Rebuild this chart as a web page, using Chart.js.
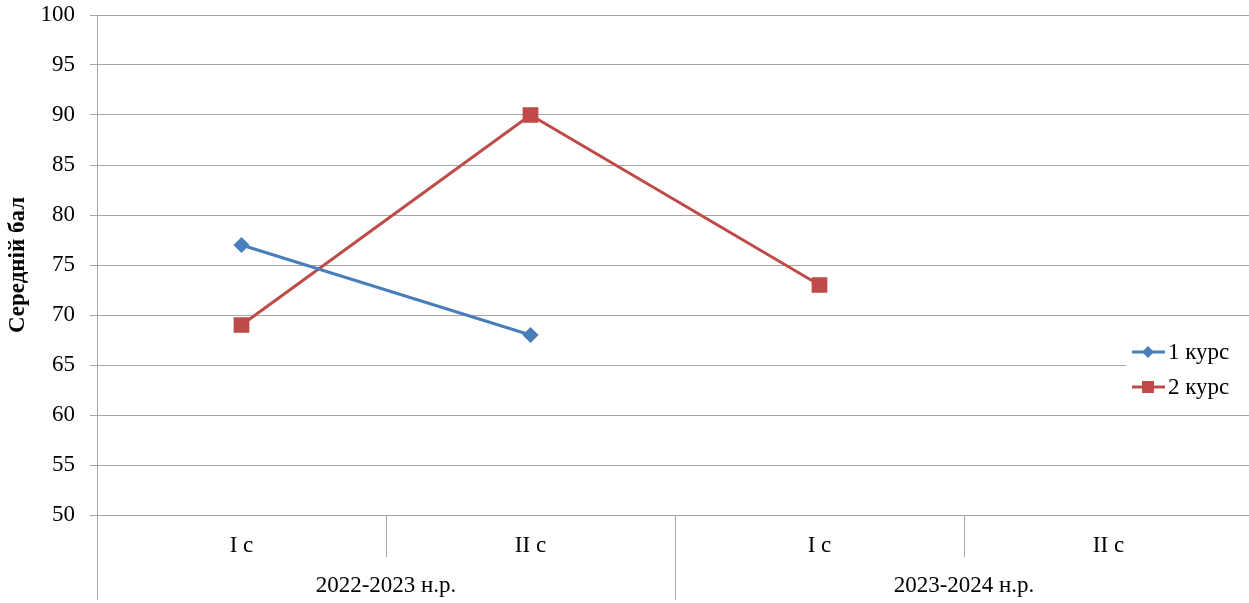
<!DOCTYPE html>
<html>
<head>
<meta charset="utf-8">
<script src="https://cdn.jsdelivr.net/npm/chart.js@4"></script>
<style>
    html, body { margin: 0; padding: 0; background: #fff; overflow: hidden; }
    #wrap { width: 1265px; height: 603px; }
</style>
</head>
<body>
<div id="wrap"><canvas id="chart1"></canvas></div>
<script>
const semesters = ["I с", "II с", "I с", "II с"];
const years = ["2022-2023 н.р.", "2023-2024 н.р."];
const course1 = [77, 68, null, null];
const course2 = [69, 90, 73, null];
const seriesNames = ["1 курс", "2 курс"];
const yTitle = "Середній бал";

const gridColor = "#a6a6a6";
const blue = "#4a7ebb";
const red = "#be4b48";
const font = "'Liberation Serif', 'Times New Roman', serif";
const fontSize = 23;

// labels under the axis, group lines and the legend box
const extras = {
    id: "extras",
    afterDraw(chart) {
        const ctx = chart.ctx;
        const x = chart.scales.x;
        const area = chart.chartArea;
        const step = x.getPixelForValue(1) - x.getPixelForValue(0);
        const bottom = chart.height - 3;

        ctx.save();
        ctx.strokeStyle = gridColor;
        ctx.lineWidth = 1;
        for (let i = 0; i <= semesters.length; i++) {
            const px = Math.round(x.getPixelForValue(0) - step / 2 + i * step) + 0.5;
            const full = i % 2 == 0;
            ctx.beginPath();
            ctx.moveTo(px, i == 0 ? area.top : area.bottom);
            ctx.lineTo(px, full ? bottom : area.bottom + 42);
            ctx.stroke();
        }

        ctx.fillStyle = "#000";
        ctx.font = fontSize + "px " + font;
        ctx.textAlign = "center";
        ctx.textBaseline = "middle";
        semesters.forEach((s, i) => {
            ctx.fillText(s, x.getPixelForValue(i), area.bottom + 31);
        });
        years.forEach((y, i) => {
            const mid = (x.getPixelForValue(i * 2) + x.getPixelForValue(i * 2 + 1)) / 2;
            ctx.fillText(y, mid, area.bottom + 71);
        });

        // legend
        ctx.fillStyle = "#fff";
        ctx.fillRect(1126, 338, 123, 64);
        const colors = [blue, red];
        seriesNames.forEach((name, i) => {
            const ly = 352 + i * 35;
            ctx.strokeStyle = colors[i];
            ctx.lineWidth = 3;
            ctx.beginPath();
            ctx.moveTo(1132, ly);
            ctx.lineTo(1165, ly);
            ctx.stroke();
            ctx.fillStyle = colors[i];
            if (i == 0) {
                ctx.beginPath();
                ctx.moveTo(1148, ly - 6);
                ctx.lineTo(1154, ly);
                ctx.lineTo(1148, ly + 6);
                ctx.lineTo(1142, ly);
                ctx.closePath();
                ctx.fill();
            } else {
                ctx.fillRect(1142, ly - 6, 12, 12);
            }
            ctx.fillStyle = "#000";
            ctx.textAlign = "left";
            ctx.fillText(name, 1168, ly + 1);
        });
        ctx.restore();
    }
};

const c1 = document.getElementById("chart1");
const chartObject1 = new Chart(c1, {
    type: "line",
    data: {
        labels: semesters,
        datasets: [{
            label: seriesNames[0],
            data: course1,
            borderColor: blue,
            backgroundColor: blue,
            borderWidth: 3,
            pointStyle: "rectRot",
            pointRadius: 6,
            pointHoverRadius: 6
        }, {
            label: seriesNames[1],
            data: course2,
            borderColor: red,
            backgroundColor: red,
            borderWidth: 3,
            pointStyle: "rect",
            pointRadius: 9,
            pointHoverRadius: 9
        }]
    },
    options: {
        responsive: true,
        maintainAspectRatio: false,
        animation: false,
        layout: { padding: { top: 15, right: 3, left: 0, bottom: 0 } },
        plugins: {
            legend: { display: false },
            tooltip: { enabled: false }
        },
        scales: {
            x: {
                offset: true,
                grid: { display: false },
                border: { display: false },
                ticks: { display: false },
                afterFit: function (scale) {
                    scale.height = 88;
                    scale.paddingLeft = 0;
                    scale.paddingRight = 0;
                }
            },
            y: {
                min: 50,
                max: 100,
                ticks: {
                    stepSize: 5,
                    color: "#000",
                    padding: 15,
                    font: { family: font, size: fontSize }
                },
                grid: { color: gridColor, tickLength: 7, tickColor: gridColor },
                border: { display: false },
                title: {
                    display: true,
                    text: yTitle,
                    color: "#000",
                    padding: { top: 4, bottom: 0 },
                    font: { family: font, size: fontSize, weight: "bold" }
                },
                afterFit: function (scale) {
                    scale.width = 97;
                    scale.paddingTop = 0;
                    scale.paddingBottom = 0;
                }
            }
        }
    },
    plugins: [extras]
});
</script>
</body>
</html>
